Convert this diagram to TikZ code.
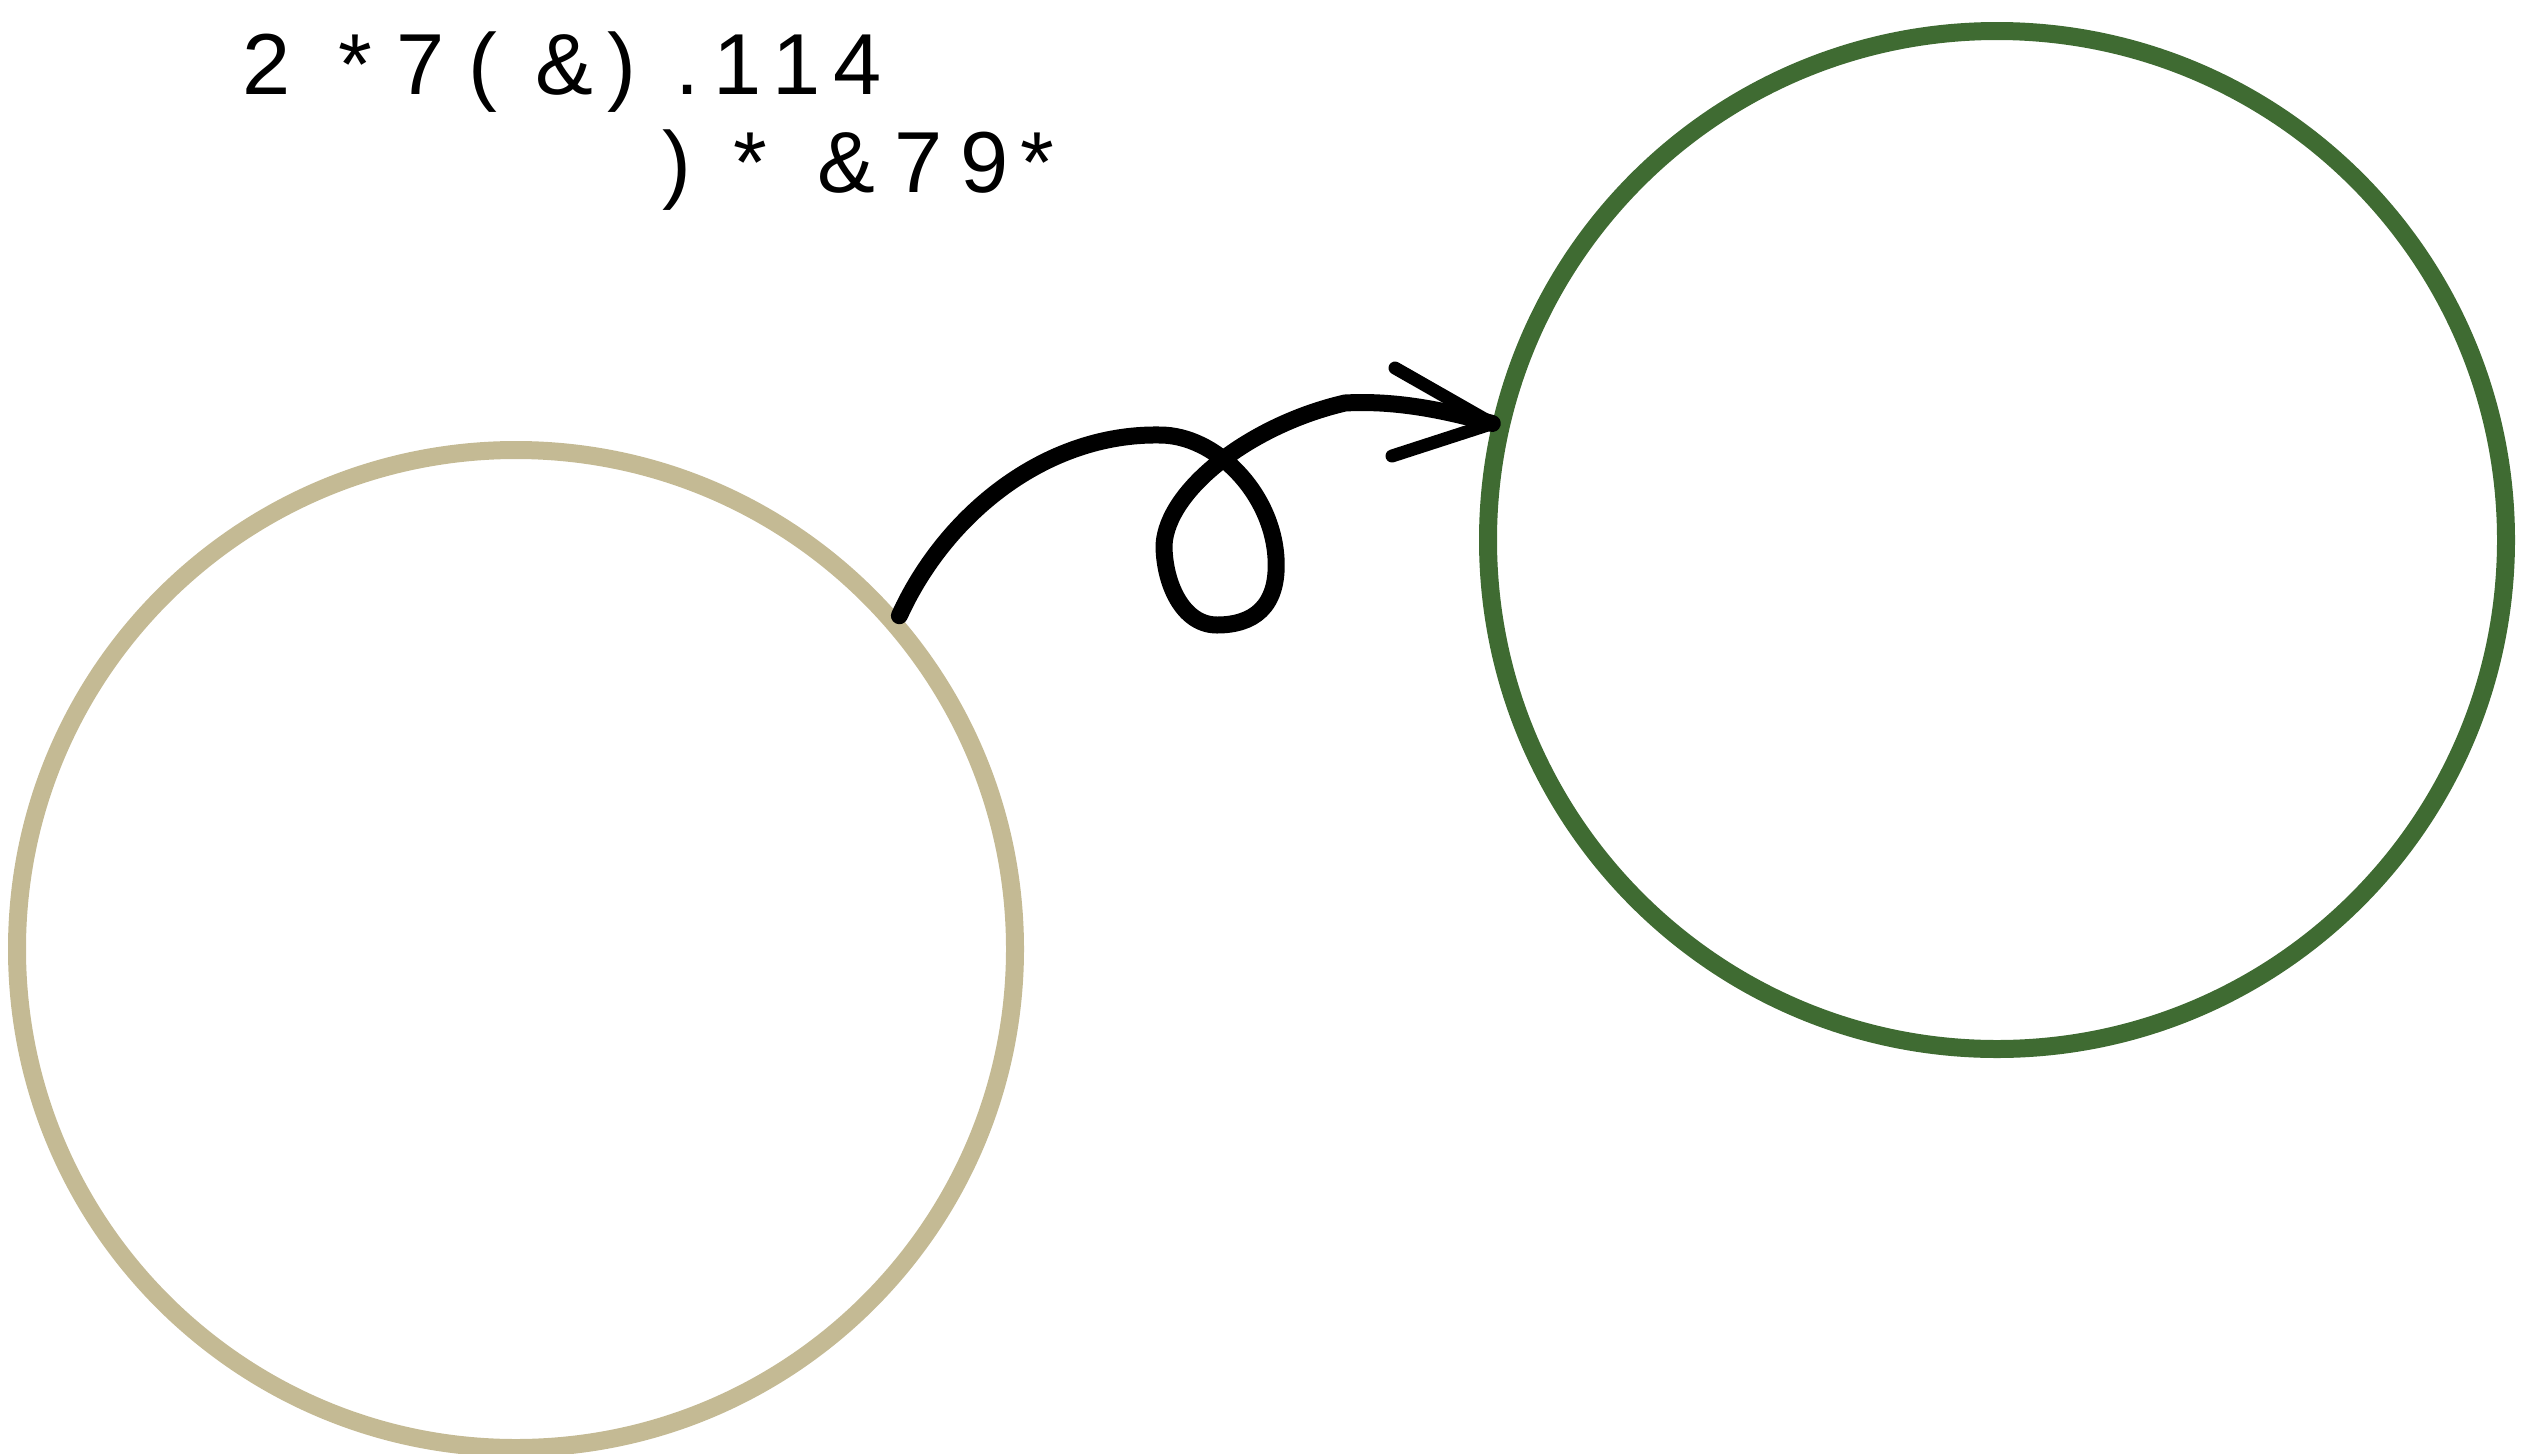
\documentclass[tikz,border=0pt]{standalone}
\usepackage{fontspec}
\setmainfont{Liberation Sans}
\definecolor{tanc}{HTML}{C4BA94}
\definecolor{greenc}{HTML}{3F6B32}
\begin{document}
\begin{tikzpicture}[x=1pt,y=-1pt,
  ring/.style={circle, draw, line width=18pt, minimum size=#1, inner sep=0pt},
  ch/.style={anchor=base, inner sep=0pt, font=\fontsize{86.6}{90}\selectfont},
  curl/.style={line width=17pt, line cap=round, line join=round, black},
  barb/.style={line width=13pt, line cap=round, line join=round, black}]
\useasboundingbox (0,0) rectangle (2544,1454);
\node[ring=998pt, tanc] (A) at (516,949) {};
\node[ring=1018pt, greenc] (B) at (1997,540) {};
% text line 1
\node[ch] (t1) at (267,94) {2};
\node[ch] (t2) at (355,94) {*};
\node[ch] (t3) at (421,94) {7};
\node[ch] (t4) at (483,94) {(};
\node[ch] (t5) at (564,94) {\&};
\node[ch] (t6) at (622,94) {)};
\node[ch] (t7) at (688,94) {.};
\node[ch] (t8) at (738,94) {1};
\node[ch] (t9) at (797,94) {1};
\node[ch] (t10) at (858,94) {4};
% text line 2
\node[ch] (u1) at (677,192) {)};
\node[ch] (u2) at (750,192) {*};
\node[ch] (u3) at (846,192) {\&};
\node[ch] (u4) at (919,192) {7};
\node[ch] (u5) at (985,192) {9};
\node[ch] (u6) at (1037,192) {*};
% curly arrow
\coordinate (T1) at (1160,435);
\coordinate (R) at (1276,558);
\coordinate (Bm) at (1217,625);
\coordinate (L) at (1164,545);
\coordinate (Q) at (1345,403);
\coordinate (h1) at (1395,368);
\coordinate (h2) at (1392,456);
\draw[curl] (A.41) .. controls (945,515) and (1045,433) .. (T1)
  .. controls (1215,435) and (1272,492) .. (R)
  .. controls (1279,608) and (1252,625) .. (Bm)
  .. controls (1182,625) and (1164,582) .. (L)
  .. controls (1167,490) and (1250,425) .. (Q)
  .. controls (1400,400) and (1450,412) .. (B.167);
\draw[barb] (h1) -- (B.167) -- (h2);
\end{tikzpicture}
\end{document}
